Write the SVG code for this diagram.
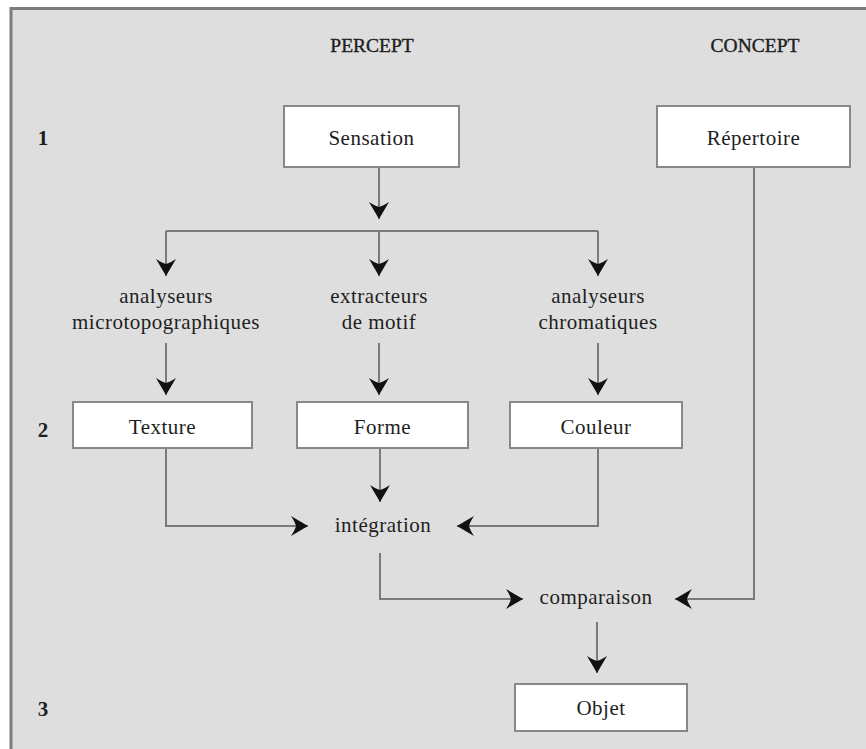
<svg xmlns="http://www.w3.org/2000/svg" width="866" height="749" viewBox="0 0 866 749">
  <defs>
    <marker id="arrow" markerUnits="userSpaceOnUse" markerWidth="20" markerHeight="22" viewBox="0 -11 18 22" refX="17" refY="0" orient="auto">
      <path d="M0,-10 L17,0 L0,10 Q4,4 5,0 Q4,-4 0,-10 Z" fill="#111"/>
    </marker>
    <style>
      .box { fill: #ffffff; stroke: #888888; stroke-width: 2; }
      .wire { fill: none; stroke: #7a7a7a; stroke-width: 2; }
      .arr { marker-end: url(#arrow); }
      text { font-family: "Liberation Serif", "Times New Roman", serif; fill: #1e1e1e; }
      .lbl { font-size: 21px; letter-spacing: 0.5px; text-anchor: middle; }
      .head { font-size: 19.5px; text-anchor: middle; stroke: #1e1e1e; stroke-width: 0.4px; }
      .num { font-size: 21px; font-weight: bold; text-anchor: middle; }
    </style>
  </defs>

  <!-- page -->
  <rect x="0" y="0" width="866" height="749" fill="#ffffff"/>
  <rect x="10" y="8" width="856" height="741" fill="#dedede"/>
  <path d="M11,749 V8.5 H866" fill="none" stroke="#7d7d7d" stroke-width="3"/>

  <!-- column headings and row numbers -->
  <g id="headings">
    <text class="head" x="372" y="52">PERCEPT</text>
    <text class="head" x="755" y="52">CONCEPT</text>
    <text class="num" x="43" y="145">1</text>
    <text class="num" x="43" y="437">2</text>
    <text class="num" x="43" y="716">3</text>
  </g>

  <!-- connectors -->
  <g id="connectors">
    <path class="wire arr" d="M379,167 V219"/>
    <path class="wire" d="M166,231 H598"/>
    <path class="wire arr" d="M166,231 V276"/>
    <path class="wire arr" d="M379,231 V276"/>
    <path class="wire arr" d="M598,231 V276"/>
    <path class="wire arr" d="M166,343 V395"/>
    <path class="wire arr" d="M379,343 V395"/>
    <path class="wire arr" d="M598,343 V395"/>
    <path class="wire arr" d="M380,448 V502"/>
    <path class="wire arr" d="M166,448 V526 H308"/>
    <path class="wire arr" d="M598,448 V526 H457"/>
    <path class="wire arr" d="M380,553 V599 H523"/>
    <path class="wire arr" d="M754,167 V599 H675"/>
    <path class="wire arr" d="M597,622 V673"/>
  </g>

  <!-- nodes -->
  <g id="sensation">
    <rect class="box" x="284" y="106" width="175" height="61"/>
    <text class="lbl" x="371.5" y="145">Sensation</text>
  </g>
  <g id="repertoire">
    <rect class="box" x="657" y="106" width="193" height="61"/>
    <text class="lbl" x="753.5" y="145">Répertoire</text>
  </g>
  <g id="analyseurs-micro">
    <text class="lbl" x="166" y="303">analyseurs</text>
    <text class="lbl" x="166" y="329">microtopographiques</text>
  </g>
  <g id="extracteurs">
    <text class="lbl" x="379" y="303">extracteurs</text>
    <text class="lbl" x="379" y="329">de motif</text>
  </g>
  <g id="analyseurs-chroma">
    <text class="lbl" x="598" y="303">analyseurs</text>
    <text class="lbl" x="598" y="329">chromatiques</text>
  </g>
  <g id="texture">
    <rect class="box" x="73" y="402" width="179" height="46"/>
    <text class="lbl" x="162.5" y="434">Texture</text>
  </g>
  <g id="forme">
    <rect class="box" x="297" y="402" width="171" height="46"/>
    <text class="lbl" x="382.5" y="434">Forme</text>
  </g>
  <g id="couleur">
    <rect class="box" x="510" y="402" width="172" height="46"/>
    <text class="lbl" x="596" y="434">Couleur</text>
  </g>
  <g id="integration">
    <text class="lbl" x="383" y="532">intégration</text>
  </g>
  <g id="comparaison">
    <text class="lbl" x="596" y="604">comparaison</text>
  </g>
  <g id="objet">
    <rect class="box" x="515" y="684" width="172" height="47"/>
    <text class="lbl" x="601" y="715">Objet</text>
  </g>
</svg>
